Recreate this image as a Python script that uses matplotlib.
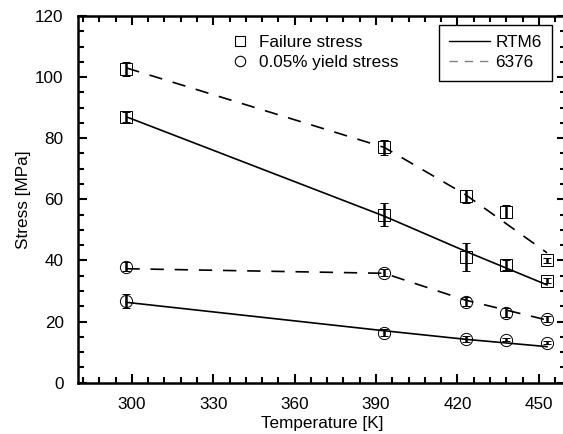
import matplotlib
matplotlib.use("Agg")
import matplotlib.pyplot as plt
from matplotlib.lines import Line2D
from matplotlib.ticker import MultipleLocator

plt.rcParams["font.family"] = ["Liberation Sans", "DejaVu Sans"]
plt.rcParams["font.size"] = 12.3

# measured temperatures [K]
temps = [298, 393, 423, 438, 453]

# failure stress (squares)
rtm6_fail = [87, 55, 41, 38.5, 33.3]
rtm6_fail_err = [1.6, 3.7, 4.6, 1.6, 0.8]
e6376_fail = [102.8, 77, 61, 56, 40]
e6376_fail_err = [2.3, 2.4, 2.2, 2.2, 0.8]

# 0.05% yield stress (circles)
rtm6_yield = [26.8, 16.4, 14.2, 14, 13.1]
rtm6_yield_err = [2.3, 1.2, 1.0, 0.5, 0.5]
e6376_yield = [38, 36, 26.5, 22.9, 20.7]
e6376_yield_err = [1.5, 1.2, 1.5, 1.5, 1.0]

# trend lines
line_t = [298, 393, 423, 453]
rtm6_fail_line = [87, 54.5, 43, 32]
e6376_fail_line = [103, 77, 61.5, 42.5]
rtm6_yield_line = [26.3, 17, 14.2, 11.8]
e6376_yield_line = [37.3, 35.8, 27, 20.5]

fig = plt.figure(figsize=(5.63, 4.34), dpi=100)
ax = fig.add_axes([0.1377, 0.1182, 0.8677, 0.845])

dash = (0, (8, 6.5))
ax.plot(line_t, rtm6_fail_line, color="k", lw=1.2)
ax.plot(line_t, rtm6_yield_line, color="k", lw=1.2)
ax.plot(line_t, e6376_fail_line, color="k", lw=1.2, ls=dash)
ax.plot(line_t, e6376_yield_line, color="k", lw=1.2, ls=dash)

for vals, errs, mk in [(rtm6_fail, rtm6_fail_err, "s"),
                       (e6376_fail, e6376_fail_err, "s"),
                       (rtm6_yield, rtm6_yield_err, "o"),
                       (e6376_yield, e6376_yield_err, "o")]:
    ax.errorbar(temps, vals, yerr=errs, fmt=mk, mfc="none", mec="k",
                ms=8.8, mew=0.7, ecolor="k", elinewidth=1.8,
                capsize=3, capthick=1.8, zorder=3)

ax.set_xlim(280, 460)
ax.set_ylim(0, 120)
ax.xaxis.set_major_locator(MultipleLocator(30))
ax.xaxis.set_minor_locator(MultipleLocator(6))
ax.yaxis.set_major_locator(MultipleLocator(20))
ax.yaxis.set_minor_locator(MultipleLocator(5))
ax.tick_params(which="both", direction="in", top=True, right=True, width=1.5)
ax.tick_params(which="major", length=6.5, labelsize=12.3)
ax.tick_params(axis="x", which="major", pad=10)
ax.tick_params(axis="y", which="major", pad=10)
ax.tick_params(which="minor", length=4.3)
for s in ax.spines.values():
    s.set_linewidth(1.8)

ax.set_xlabel("Temperature [K]", labelpad=3)
ax.set_ylabel("Stress [MPa]", labelpad=3)

mk_handles = [
    Line2D([], [], marker="s", ls="none", mfc="none", mec="k", ms=7.5, mew=0.8),
    Line2D([], [], marker="o", ls="none", mfc="none", mec="k", ms=7.5, mew=0.8),
]
leg1 = ax.legend(mk_handles, ["Failure stress", "0.05% yield stress"],
                 loc="upper left", bbox_to_anchor=(0.3157, 0.948),
                 frameon=False, borderpad=0, borderaxespad=0,
                 handlelength=1.0, handletextpad=0.6, labelspacing=0.3)
ax.add_artist(leg1)

ln_handles = [
    Line2D([], [], color="k", lw=1),
    Line2D([], [], color="gray", lw=1, ls=(0, (6, 5))),
]
leg2 = ax.legend(ln_handles, ["RTM6", "6376"], loc="upper right",
                 bbox_to_anchor=(0.971, 0.9755), borderaxespad=0,
                 fancybox=False, edgecolor="k", framealpha=1,
                 handlelength=2.4, handletextpad=0.3, labelspacing=0.3,
                 borderpad=0.6)
leg2.get_frame().set_linewidth(1.0)

fig.savefig("out.png", dpi=100)
